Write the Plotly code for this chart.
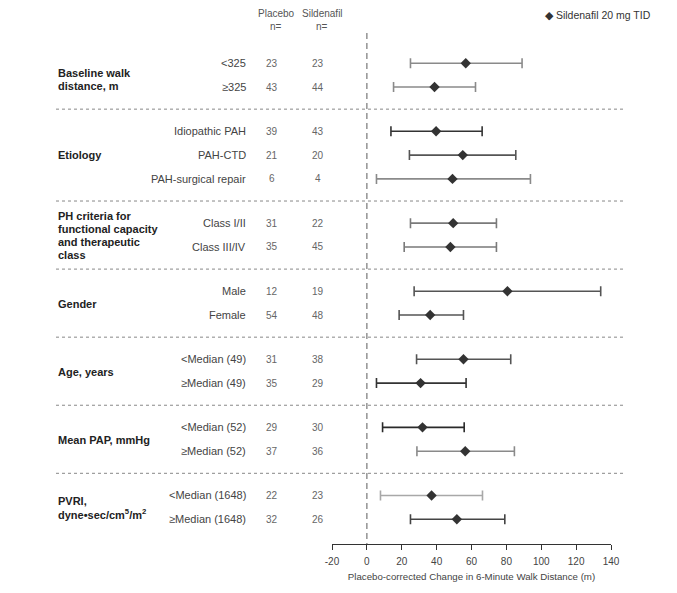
import plotly.graph_objects as go

# ---- data ----
groups = [
    ["Baseline walk", "distance, m"],
    ["Etiology"],
    ["PH criteria for", "functional capacity", "and therapeutic", "class"],
    ["Gender"],
    ["Age, years"],
    ["Mean PAP, mmHg"],
    ["PVRI,", "dyne•sec/cm<sup>5</sup>/m<sup>2</sup>"],
]
row_group = [0, 0, 1, 1, 1, 2, 2, 3, 3, 4, 4, 5, 5, 6, 6]
subgroups = ["<325", "≥325", "Idiopathic PAH", "PAH-CTD", "PAH-surgical repair",
             "Class I/II", "Class III/IV", "Male", "Female",
             "<Median (49)", "≥Median (49)", "<Median (52)", "≥Median (52)",
             "<Median (1648)", "≥Median (1648)"]
placebo_n = [23, 43, 39, 21, 6, 31, 35, 12, 54, 31, 35, 29, 37, 22, 32]
sildenafil_n = [23, 44, 43, 20, 4, 22, 45, 19, 48, 38, 29, 30, 36, 23, 26]
estimate = [56.7, 38.8, 39.7, 55.0, 49.1, 49.5, 47.9, 80.6, 36.3, 55.4, 30.8, 31.9, 56.4, 37.1, 51.6]
ci_low = [25.0, 15.3, 13.8, 24.4, 5.5, 25.0, 21.4, 27.1, 18.5, 28.5, 5.5, 9.0, 28.7, 7.8, 25.0]
ci_high = [89.0, 62.3, 66.1, 85.4, 93.8, 74.3, 74.3, 134.1, 55.4, 82.5, 56.9, 55.8, 84.6, 66.3, 79.1]
x_ticks = [-20, 0, 20, 40, 60, 80, 100, 120, 140]
x_ticktext = ["-20", "0", "20", "40", "60", "80", "100", "120", "140"]

# ---- style ----
bar_colors = ["#8a8a8a", "#8a8a8a", "#333333", "#555555", "#8a8a8a",
              "#7a7a7a", "#7a7a7a", "#555555", "#555555",
              "#555555", "#333333", "#2a2a2a", "#8a8a8a",
              "#a8a8a8", "#444444"]
label_shift = [-4, 0, 0, -1, -1, -1, 0]
GAP = 0.86
LINE_H = 13
FONT = "Liberation Sans, Arial, sans-serif"

# row positions (row index plus extra gap between groups)
pos = [i + GAP * g for i, g in enumerate(row_group)]

fig = go.Figure()
for i in range(len(subgroups)):
    fig.add_trace(go.Scatter(
        x=[estimate[i]], y=[pos[i]], mode="markers",
        marker=dict(symbol="diamond", size=8, color="#333333"),
        error_x=dict(type="data", symmetric=False,
                     array=[ci_high[i] - estimate[i]],
                     arrayminus=[estimate[i] - ci_low[i]],
                     color=bar_colors[i], thickness=1.6, width=5),
        showlegend=False, hoverinfo="skip", cliponaxis=False,
    ))

W, H = 677, 593
OFF = 8  # page body offset
L, R, T, B = 324, 74, 0, 57
pw = W - L - R


def px2paper(px):
    return (px - OFF - L) / pw


ann = []
for i in range(len(subgroups)):
    ann.append(dict(x=px2paper(248), xref="paper", y=pos[i], yref="y",
                    text=subgroups[i], showarrow=False, xanchor="right",
                    font=dict(size=11, color="#444444", family=FONT)))
    ann.append(dict(x=px2paper(272), xref="paper", y=pos[i], yref="y",
                    text=str(placebo_n[i]), showarrow=False, xanchor="center",
                    font=dict(size=10, color="#666666", family=FONT)))
    ann.append(dict(x=px2paper(318), xref="paper", y=pos[i], yref="y",
                    text=str(sildenafil_n[i]), showarrow=False, xanchor="center",
                    font=dict(size=10, color="#666666", family=FONT)))

for g, lines in enumerate(groups):
    ps = [pos[i] for i in range(len(pos)) if row_group[i] == g]
    n = len(lines)
    for j, line in enumerate(lines):
        off = (j - (n - 1) / 2) * LINE_H
        ann.append(dict(x=px2paper(56), xref="paper", y=sum(ps) / len(ps), yref="y",
                        text="<b>" + line + "</b>", showarrow=False, xanchor="left",
                        align="left", yshift=-off + label_shift[g],
                        font=dict(size=11, color="#222222", family=FONT)))

# column headers
hdr_font = dict(size=10, color="#555555", family=FONT)
for cx, label in [(276, "Placebo"), (322, "Sildenafil")]:
    ann.append(dict(x=px2paper(cx), xref="paper", y=-2.07, yref="y", text=label,
                    showarrow=False, xanchor="center", font=hdr_font))
    ann.append(dict(x=px2paper(cx), xref="paper", y=-1.55, yref="y", text="n=",
                    showarrow=False, xanchor="center", font=hdr_font))
# legend
ann.append(dict(x=px2paper(653), xref="paper", y=-2.03, yref="y",
                text="◆ Sildenafil 20 mg TID", showarrow=False, xanchor="right",
                font=dict(size=10.5, color="#333333", family=FONT)))

shapes = []
# separators between groups
for i in range(1, len(pos)):
    if row_group[i] != row_group[i - 1]:
        ymid = (pos[i] + pos[i - 1]) / 2
        shapes.append(dict(type="line", xref="paper", yref="y",
                           x0=px2paper(56), x1=px2paper(626), y0=ymid, y1=ymid,
                           line=dict(color="#888888", width=1, dash="3px,3px")))
# zero reference line
shapes.append(dict(type="line", xref="x", yref="y", x0=0, x1=0,
                   y0=-1.27, y1=20.2,
                   line=dict(color="#777777", width=1.2, dash="6px,4px")))

fig.update_layout(
    width=W, height=H,
    margin=dict(l=L, r=R, t=T, b=B),
    paper_bgcolor="white", plot_bgcolor="white",
    font=dict(family=FONT),
    xaxis=dict(range=[-20, 140], tickvals=x_ticks, ticktext=x_ticktext,
               showgrid=False, zeroline=False, showline=True,
               linecolor="#333333", linewidth=1.2, ticks="outside",
               tickcolor="#333333", ticklen=5, tickwidth=1.2,
               ticklabelstandoff=3,
               tickfont=dict(size=10, color="#444444"),
               title=dict(text="Placebo-corrected Change in 6-Minute Walk Distance (m)",
                          font=dict(size=9.7, color="#444444"), standoff=7)),
    yaxis=dict(range=[20.2, -2.32], visible=False, showgrid=False, zeroline=False),
    annotations=ann, shapes=shapes,
)

fig.write_html("out.html")
